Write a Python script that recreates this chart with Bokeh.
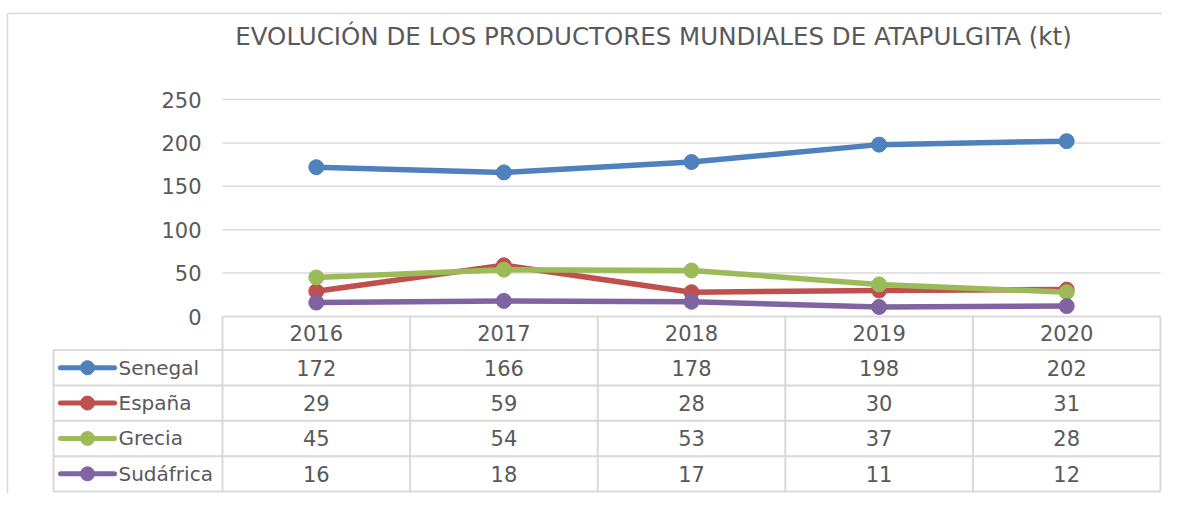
from bokeh.plotting import figure
from bokeh.models import Range1d
from bokeh.core.properties import value
from bokeh.embed import file_html
from bokeh.resources import INLINE

# ---- data ----
title = "EVOLUCIÓN DE LOS PRODUCTORES MUNDIALES DE ATAPULGITA (kt)"
years = ["2016", "2017", "2018", "2019", "2020"]
series_names = ["Senegal", "España", "Grecia", "Sudáfrica"]
senegal = [172, 166, 178, 198, 202]
espana = [29, 59, 28, 30, 31]
grecia = [45, 54, 53, 37, 28]
sudafrica = [16, 18, 17, 11, 12]
series_values = [senegal, espana, grecia, sudafrica]
colors = ["#4F81BD", "#C0504D", "#9BBB59", "#8064A2"]
y_ticks = [0, 50, 100, 150, 200, 250]

# ---- layout helpers (reference pixel -> data units) ----
W, H = 1162, 493
PLOT_L, PLOT_R = 222.0, 1160.0
Y0_PX, Y250_PX = 316.0, 99.0
COLW = (PLOT_R - PLOT_L) / len(years)
KY = (Y0_PX - Y250_PX) / 250.0


def X(px):
    return (px - PLOT_L) / COLW


def Y(py):
    return (Y0_PX - py) / KY


FONT = value("DejaVu Sans")
TXT = "#595959"
GRID = "#D9D9D9"

p = figure(width=W, height=H, output_backend="svg", toolbar_location=None,
           x_range=Range1d(X(0), X(W)), y_range=Range1d(Y(H), Y(0)),
           x_axis_location=None, y_axis_location=None, min_border=0,
           outline_line_color=None, background_fill_color="white",
           border_fill_color="white")
p.grid.visible = False

# chart outer border
p.segment(x0=[X(7), X(7)], y0=[Y(13), Y(13)], x1=[X(7), X(W)], y1=[Y(H), Y(13)],
          line_color=GRID, line_width=1.5)

# title
p.text(x=[X(653)], y=[Y(36)], text=[title], text_font=FONT, text_font_size="24.5px",
       text_color=TXT, text_align="center", text_baseline="middle")

# gridlines and y tick labels
gt = [t for t in y_ticks if t > 0]
p.segment(x0=[0] * len(gt), y0=gt, x1=[len(years)] * len(gt), y1=gt,
          line_color=GRID, line_width=1.5)
p.text(x=[X(201)] * len(y_ticks), y=y_ticks, text=[str(t) for t in y_ticks],
       text_font=FONT, text_font_size="21px", text_color=TXT,
       text_align="right", text_baseline="middle")

# data table grid
TOP, BOT = 316.0, 491.0
LEG_L = 53.0
nrows = len(series_names)
scale = (BOT - TOP) / 188.0
HDR = TOP + 36.0 * scale
RH = (BOT - HDR) / nrows
row_bounds = [HDR + i * RH for i in range(nrows + 1)]
row_centers = [HDR + (i + 0.5) * RH for i in range(nrows)]
# horizontal lines
hx0 = [X(PLOT_L)] + [X(LEG_L)] * len(row_bounds)
hx1 = [X(PLOT_R)] * (1 + len(row_bounds))
hy = [Y(TOP)] + [Y(b) for b in row_bounds]
p.segment(x0=hx0, y0=hy, x1=hx1, y1=hy, line_color=GRID, line_width=2)
# vertical lines
vx = list(range(len(years) + 1))
p.segment(x0=vx, y0=[Y(TOP)] * len(vx), x1=vx, y1=[Y(BOT)] * len(vx),
          line_color=GRID, line_width=2)
p.segment(x0=[X(LEG_L)], y0=[Y(HDR)], x1=[X(LEG_L)], y1=[Y(BOT)],
          line_color=GRID, line_width=2)

xs = [i + 0.5 for i in range(len(years))]
# header years
p.text(x=xs, y=[Y((TOP + HDR) / 2)] * len(years), text=years, text_font=FONT,
       text_font_size="21px", text_color=TXT, text_align="center", text_baseline="middle")

# series lines, markers, table rows and legend keys
for name, vals, col, rc in zip(series_names, series_values, colors, row_centers):
    p.line(xs, vals, line_color=col, line_width=5.5, line_join="round", line_cap="round")
    p.scatter(xs, vals, size=15, fill_color=col, line_color=col)
    p.text(x=xs, y=[Y(rc)] * len(xs), text=[str(v) for v in vals], text_font=FONT,
           text_font_size="21px", text_color=TXT, text_align="center", text_baseline="middle")
    p.segment(x0=[X(60)], y0=[Y(rc)], x1=[X(114)], y1=[Y(rc)], line_color=col,
              line_width=5, line_cap="round")
    p.scatter([X(87)], [Y(rc)], size=14, fill_color=col, line_color=col)
    p.text(x=[X(118)], y=[Y(rc)], text=[name], text_font=FONT, text_font_size="20px",
           text_color=TXT, text_align="left", text_baseline="middle")

open("out.html", "w").write(file_html(p, INLINE))
